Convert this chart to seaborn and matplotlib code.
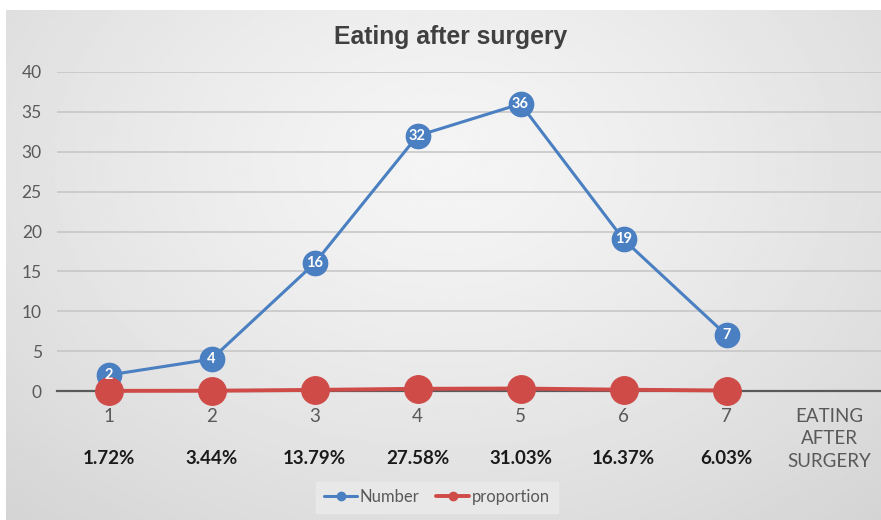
import numpy as np
import matplotlib
matplotlib.use("Agg")
import matplotlib.pyplot as plt
import seaborn as sns
from matplotlib.lines import Line2D

categories = ["1", "2", "3", "4", "5", "6", "7", "EATING\nAFTER\nSURGERY"]
number = [2, 4, 16, 32, 36, 19, 7]
proportion = [0.0172, 0.0344, 0.1379, 0.2758, 0.3103, 0.1637, 0.0603]
pct_labels = ["1.72%", "3.44%", "13.79%", "27.58%", "31.03%", "16.37%", "6.03%"]
yticks = [0, 5, 10, 15, 20, 25, 30, 35, 40]
title = "Eating after surgery"

sns.set_theme(style="white")
FONT = ["Lato", "DejaVu Sans"]
plt.rcParams["font.family"] = FONT

BLUE = "#4a7fc1"
RED = "#cf4b48"
TXT = "#595959"

W, H = 881, 520
fig = plt.figure(figsize=(W / 100, H / 100), dpi=100, facecolor="white")

# background gradient panel
bg = fig.add_axes([6 / W, 0, 1 - 6 / W, 1 - 10 / H])
yy, xx = np.mgrid[0:1:200j, 0:1:300j]
r = np.sqrt(((xx - 0.5) / 0.8) ** 2 + ((yy - 0.3) / 1.0) ** 2)
val = np.clip(0.96 - 0.14 * r ** 1.3, 0.81, 1)
bg.imshow(val, cmap="gray", vmin=0, vmax=1, aspect="auto", extent=[0, 1, 1, 0])
bg.set_axis_off()

ax = fig.add_axes([57 / W, 1 - 391 / H, 1 - 57 / W, (391 - 72) / H])
ax.set_facecolor("none")

xpos = np.arange(len(number))
sns.lineplot(x=xpos, y=number, ax=ax, color=BLUE, linewidth=2.2, marker="o",
             markersize=17, markeredgecolor=BLUE, markeredgewidth=1.5,
             clip_on=False, legend=False, zorder=3)
sns.lineplot(x=xpos, y=proportion, ax=ax, color=RED, linewidth=2.8, marker="o",
             markersize=20, markeredgecolor=RED, clip_on=False, legend=False, zorder=4)

for x, v in zip(xpos, number):
    ax.text(x, v, str(v), color="white", fontsize=10.5, fontweight="bold",
            ha="center", va="center", zorder=5)

ax.set_xlim(-0.5, len(categories) - 0.5)
ax.set_ylim(0, 40)
ax.set_yticks(yticks)
ax.set_yticklabels([str(t) for t in yticks], color=TXT, fontsize=12.5)
ax.set_xticks(np.arange(len(categories)))
ax.set_xticklabels(categories, color=TXT, fontsize=13.5, linespacing=1.4)
ax.tick_params(axis="both", length=0)
ax.tick_params(axis="x", pad=12)
ax.tick_params(axis="y", pad=11)
ax.grid(axis="y", color="#c4c4c4", linewidth=1.1)
ax.grid(axis="x", visible=False)
for s in ["top", "right", "left"]:
    ax.spines[s].set_visible(False)
ax.spines["bottom"].set_color("#5a5a5a")
ax.spines["bottom"].set_linewidth(1.6)
ax.spines["bottom"].set_zorder(2)

trans = matplotlib.transforms.blended_transform_factory(ax.transData, fig.transFigure)
for x, lab in zip(xpos, pct_labels):
    ax.text(x, 1 - 459 / H, lab, transform=trans, ha="center", va="center",
            fontsize=13.5, fontweight="bold", color="#1a1a1a")

fig.text(451 / W, 1 - 37 / H, title, ha="center", va="center", fontsize=17.8,
         fontweight="bold", color="#404040", family=["Liberation Sans", "DejaVu Sans"])

handles = [Line2D([], [], color=BLUE, linewidth=2.2, marker="o", markersize=6),
           Line2D([], [], color=RED, linewidth=2.8, marker="o", markersize=6)]
leg = fig.legend(handles, ["Number", "proportion"], loc="center",
                 bbox_to_anchor=(437 / W, 1 - 497 / H), ncol=2, frameon=True,
                 fontsize=12, handlelength=2.0, handletextpad=0.15, columnspacing=1.0,
                 borderpad=0.45, fancybox=False)
leg.get_frame().set_facecolor("#ebebeb")
leg.get_frame().set_edgecolor("#ebebeb")
for t in leg.get_texts():
    t.set_color(TXT)

fig.savefig("out.png", dpi=100, facecolor="white")
